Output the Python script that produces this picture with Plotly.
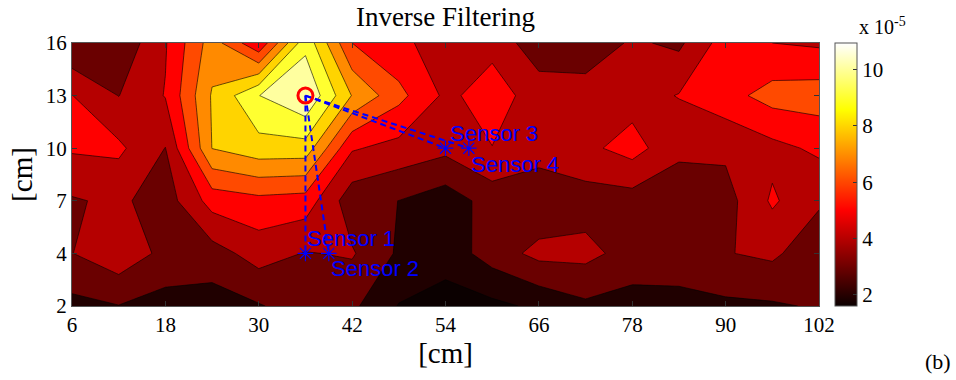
import numpy as np
import plotly.graph_objects as go

# ---------------- data (intensity in units of 1e-5) ----------------
x_cm = [6, 12, 18, 24, 30, 36, 42, 48, 54, 60, 66, 72, 78, 84, 90, 96, 102]
y_cm = [2, 4, 7, 10, 13, 16]          # rows, drawn equally spaced (MATLAB index axis)

z_y2 = [2.70, 2.97, 2.60, 2.55, 2.92, 3.50, 3.20, 1.95, 1.60, 1.75, 2.20, 2.80, 2.60, 2.70, 2.80, 2.88, 3.10]
z_y4 = [3.98, 4.69, 3.72, 3.56, 4.44, 3.95, 4.10, 2.85, 2.40, 3.47, 4.30, 4.30, 3.59, 3.50, 3.95, 4.20, 3.30]
z_y7 = [3.90, 4.20, 3.50, 5.40, 5.71, 5.55, 3.40, 2.99, 2.45, 3.42, 3.19, 3.55, 3.56, 3.30, 3.60, 5.15, 4.15]
z_y10 = [5.125, 5.20, 3.98, 8.02, 8.60, 8.58, 5.10, 4.67, 4.27, 4.98, 4.48, 4.76, 5.40, 4.25, 4.20, 4.70, 5.20]
z_y13 = [5.02, 3.98, 5.05, 8.10, 9.98, 10.95, 7.95, 6.30, 4.80, 5.40, 4.60, 4.50, 4.57, 5.05, 5.63, 6.40, 6.50]
z_y16 = [3.05, 3.22, 4.92, 7.49, 5.16, 9.70, 6.00, 5.20, 4.60, 4.75, 3.30, 3.30, 4.15, 3.80, 5.50, 5.00, 4.85]

contour_levels = [2, 3, 4, 5, 6, 7, 8, 9, 10]
x_ticks = [6, 18, 30, 42, 54, 66, 78, 90, 102]
cbar_ticks = [2, 4, 6, 8, 10]

source_x, source_y = 36, 13
sensor_x = [36, 39, 54, 57]
sensor_y = [4, 4, 10, 10]
sensor_names = ["Sensor 1", "Sensor 2", "Sensor 3", "Sensor 4"]
sensor_label_shift = [(0, 15), (0, -15), (2, 15), (0, -16)]

# ---------------- helpers ----------------
z = np.array([z_y2, z_y4, z_y7, z_y10, z_y13, z_y16])
y_idx = list(range(len(y_cm)))


def ypos(v):
    return float(np.interp(v, y_cm, y_idx))


M = 64


def hot_rgb(i, m=M):
    n = int(3 / 8 * m)
    r = min(i / n, 1.0)
    g = min(max((i - n) / n, 0.0), 1.0)
    b = min(max((i - 2 * n) / (m - 2 * n), 0.0), 1.0)
    return "rgb(%d,%d,%d)" % (round(255 * r), round(255 * g), round(255 * b))


zmin, zmax = float(z.min()), float(z.max())


def level_color(v):
    idx = int(np.floor((v - zmin) / (zmax - zmin) * M)) + 1
    return hot_rgb(min(max(idx, 1), M))


# colours of the filled bands: below first level, then one per level
band_colors = [hot_rgb(1)] + [level_color(L) for L in contour_levels]
nb = len(band_colors)
stepped = []
for k, c in enumerate(band_colors):
    lo = max((k - 0.5) / (nb - 1), 0.0)
    hi = min((k + 0.5) / (nb - 1), 1.0)
    stepped.append([lo, c])
    stepped.append([hi, c])

continuous = [[(i - 1) / (M - 1), hot_rgb(i)] for i in range(1, M + 1)]

SERIF = "Liberation Serif, Times New Roman, serif"
SANS = "Liberation Sans, Arial, sans-serif"

fig = go.Figure()

fig.add_trace(go.Contour(
    x=x_cm, y=y_idx, z=z,
    autocontour=False,
    contours=dict(start=contour_levels[0], end=contour_levels[-1],
                  size=contour_levels[1] - contour_levels[0],
                  coloring="fill", showlines=True),
    line=dict(color="black", width=0.6, smoothing=0),
    colorscale=stepped, showscale=False, hoverinfo="skip",
))

# continuous colorbar (MATLAB hot colormap)
fig.add_trace(go.Scatter(
    x=[x_cm[0]], y=[y_idx[0]], mode="markers", hoverinfo="skip", showlegend=False,
    marker=dict(size=1, opacity=0, color=[zmin], cmin=zmin, cmax=zmax,
                colorscale=continuous, showscale=True,
                colorbar=dict(thickness=22, thicknessmode="pixels", len=1, lenmode="fraction",
                              x=1.0214, xanchor="left", y=0.5, yanchor="middle",
                              xpad=0, ypad=0, outlinewidth=1, outlinecolor="#555",
                              tickvals=cbar_ticks, ticks="inside", ticklen=4, tickcolor="#333",
                              tickfont=dict(family=SERIF, size=21, color="black"))),
))

# dashed paths from source to sensors
for sx, sy in zip(sensor_x, sensor_y):
    fig.add_trace(go.Scatter(
        x=[source_x, sx], y=[ypos(source_y), ypos(sy)], mode="lines",
        line=dict(color="blue", width=2, dash="6px,4px"),
        hoverinfo="skip", showlegend=False))

fig.add_trace(go.Scatter(
    x=sensor_x, y=[ypos(v) for v in sensor_y], mode="markers",
    marker=dict(symbol="asterisk-open", size=13, line=dict(color="blue", width=1.2), color="blue"),
    hoverinfo="skip", showlegend=False))

fig.add_trace(go.Scatter(
    x=[source_x], y=[ypos(source_y)], mode="markers",
    marker=dict(symbol="circle-open", size=15, line=dict(color="red", width=3), color="red"),
    hoverinfo="skip", showlegend=False))

for sx, sy, name, (dx, dy) in zip(sensor_x, sensor_y, sensor_names, sensor_label_shift):
    fig.add_annotation(x=sx, y=ypos(sy), text=name, showarrow=False,
                       xanchor="left", yanchor="middle", xshift=dx, yshift=dy,
                       font=dict(family=SANS, size=22, color="blue"))

fig.add_annotation(xref="paper", yref="paper", x=(857 - 72) / 747, y=(306 - 40) / 263,
                   text="x 10<sup>-5</sup>", showarrow=False, xanchor="left", yanchor="bottom",
                   font=dict(family=SERIF, size=20, color="black"))

fig.add_annotation(xref="paper", yref="paper", x=(938 - 72) / 747, y=(306 - 361) / 263,
                   text="(b)", showarrow=False, xanchor="center", yanchor="middle",
                   font=dict(family=SERIF, size=22, color="black"))

axis_common = dict(showgrid=False, zeroline=False, showline=True, linecolor="#555", linewidth=1,
                   mirror="ticks", ticks="inside", ticklen=5, tickcolor="#333",
                   tickfont=dict(family=SERIF, size=21, color="black"))

fig.update_layout(
    width=956, height=380,
    margin=dict(l=72, r=137, t=43, b=74),
    paper_bgcolor="white", plot_bgcolor="white",
    showlegend=False,
    title=dict(text="Inverse Filtering", x=(445.5) / 956, xanchor="center",
               y=1 - 17 / 380, yanchor="middle",
               font=dict(family=SERIF, size=27, color="black")),
    xaxis=dict(range=[x_cm[0], x_cm[-1]], tickvals=x_ticks, ticktext=[str(v) for v in x_ticks],
               title=dict(text="[cm]", font=dict(family=SERIF, size=29, color="black"), standoff=4),
               **axis_common),
    yaxis=dict(range=[y_idx[0], y_idx[-1]], tickvals=y_idx, ticktext=[str(v) for v in y_cm],
               title=dict(text="[cm]", font=dict(family=SERIF, size=29, color="black"), standoff=4),
               **axis_common),
)

fig.write_html("out.html")
